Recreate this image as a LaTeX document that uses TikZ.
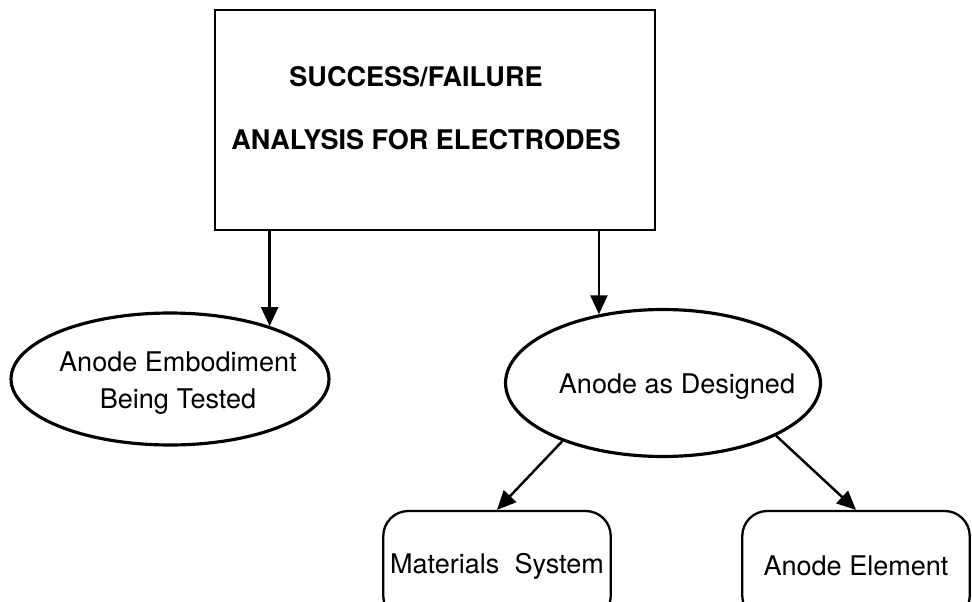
\documentclass[tikz,border=0pt]{standalone}
\usepackage{fontspec}
\setmainfont{TeX Gyre Heros}
\usetikzlibrary{arrows.meta,shapes.geometric}
\begin{document}
\begin{tikzpicture}[x=0.02cm,y=-0.02cm]

      \tikzset{headbox/.style={draw, line width=1.4pt, minimum width=8.8cm, minimum height=4.4cm},
               oval/.style={draw, ellipse, line width=1.8pt},
               partbox/.style={draw, rounded corners=0.5cm, line width=1.3pt, minimum width=4.55cm, minimum height=2.2cm},
               caption/.style={font=\fontsize{15.4}{21.5}\selectfont, align=center, inner sep=0pt},
               flow/.style={-{Triangle[length=0.38cm,width=0.34cm]}, line width=1.4pt}}
      \clip (0,0) rectangle (972,601);
%% Title box
      	\node[headbox] (study) at (435,120) {};
      	\node[caption, font=\fontsize{15.4}{21.5}\selectfont\bfseries] (head1) at (416,77) {SUCCESS/FAILURE};
      	\node[caption, font=\fontsize{15.4}{21.5}\selectfont\bfseries] (head2) at (426,140) {ANALYSIS FOR ELECTRODES};
%% Ovals
      	\node[oval, minimum width=6.36cm, minimum height=2.64cm] (embod) at (170,379) {};
      	\node[caption] (embodtext) at (178,383) {Anode Embodiment\\Being Tested};
      	\node[oval, minimum width=6.3cm, minimum height=2.94cm] (designed) at (663,383) {};
      	\node[caption] (designedtext) at (677,387) {Anode as Designed};
%% Parts
      	\node[partbox, caption] (materials) at (497,566) {Materials~~System};
      	\node[partbox, caption] (element) at (856,566) {Anode Element};
%Arrows
		\path [flow](embod.28 |- study.south) edge (embod.28);
		\path [flow](designed.133 |- study.south) edge (designed.133);
		\path [flow](designed.210) edge (materials.north);
		\path [flow](designed.-25) edge (element.north);

	\end{tikzpicture}
\end{document}
